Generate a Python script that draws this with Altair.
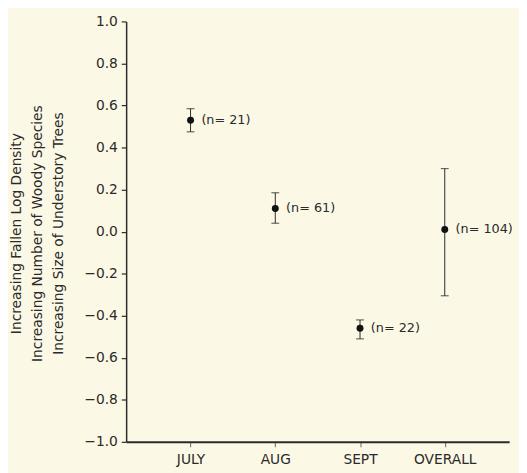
import altair as alt
import pandas as pd

months = ["JULY", "AUG", "SEPT", "OVERALL"]
means = [0.53, 0.11, -0.46, 0.01]
lows = [0.475, 0.04, -0.51, -0.305]
highs = [0.585, 0.185, -0.42, 0.30]
labels = ["(n= 21)", "(n= 61)", "(n= 22)", "(n= 104)"]
y_ticks = [-1.0, -0.8, -0.6, -0.4, -0.2, 0.0, 0.2, 0.4, 0.6, 0.8, 1.0]
y_title = ["Increasing Fallen Log Density",
           "Increasing Number of Woody Species",
           "Increasing Size of Understory Trees"]

df = pd.DataFrame({"month": months, "mean": means, "low": lows,
                   "high": highs, "label": labels})

FONT = "DejaVu Sans"
INK = "#2a2a2a"

x_enc = alt.X("month:N", sort=months,
              scale=alt.Scale(type="point", padding=0.76),
              axis=alt.Axis(title=None, labelAngle=0, labelFont=FONT,
                            labelFontSize=14, labelColor=INK, labelPadding=6,
                            domainColor=INK, domainWidth=2, tickColor="#666",
                            tickSize=5, tickWidth=1))
y_scale = alt.Scale(domain=[-1, 1], nice=False, zero=False)
y_axis = alt.Axis(title=y_title, values=y_ticks, format=".1f", grid=False,
                  labelFont=FONT, labelFontSize=14, labelColor=INK,
                  labelPadding=4, domainColor=INK, domainWidth=1.5,
                  tickColor=INK, tickSize=5, tickWidth=1.2,
                  titleFont=FONT, titleFontSize=14, titleFontWeight="normal",
                  titleColor=INK, titleLineHeight=21, titleX=-111, titleY=215,
                  titleAlign="center", titleBaseline="middle", titleAngle=270)

base = alt.Chart(df)

rules = base.mark_rule(color=INK, strokeWidth=1).encode(
    x=x_enc,
    y=alt.Y("low:Q", scale=y_scale, axis=y_axis),
    y2="high:Q")
caps_low = base.mark_tick(color=INK, size=8, thickness=1.2).encode(
    x=x_enc, y=alt.Y("low:Q", scale=y_scale))
caps_high = base.mark_tick(color=INK, size=8, thickness=1.2).encode(
    x=x_enc, y=alt.Y("high:Q", scale=y_scale))
points = base.mark_circle(color="#111", size=50, opacity=1).encode(
    x=x_enc, y=alt.Y("mean:Q", scale=y_scale))
texts = base.mark_text(align="left", baseline="middle", dx=11, font=FONT,
                       fontSize=13, color=INK).encode(
    x=x_enc, y=alt.Y("mean:Q", scale=y_scale), text="label:N")

chart = alt.layer(rules, caps_low, caps_high, points, texts).properties(
    width=389, height=427,
    autosize=alt.AutoSizeParams(type="none"),
    padding={"left": 120, "top": 10, "right": 10, "bottom": 28},
    background="#fbf9e6",
).configure_view(stroke=None)

chart.save("out.html", embed_options={"renderer": "svg", "actions": False})
